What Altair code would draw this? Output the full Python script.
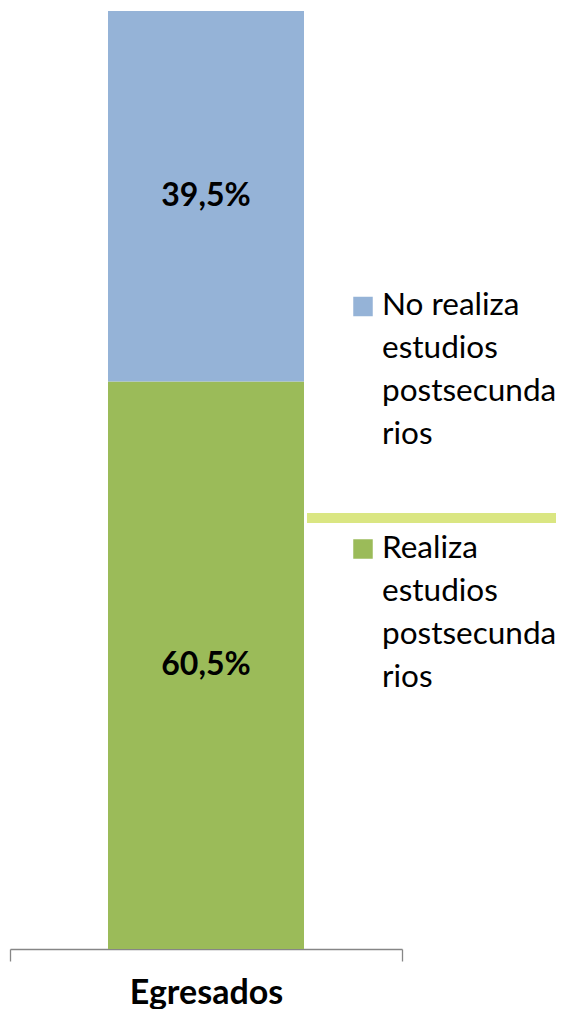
import altair as alt
import pandas as pd

# ---- data ----
group = ["Egresados", "Egresados"]
categories = ["Realiza estudios postsecundarios", "No realiza estudios postsecundarios"]
values = [60.5, 39.5]
value_labels = ["60,5%", "39,5%"]
stack_order = [0, 1]
colors = ["#9BBB59", "#95B3D7"]
legend_labels = [
    "No realiza\nestudios\npostsecunda\nrios",
    "Realiza\nestudios\npostsecunda\nrios",
]
legend_colors = ["#95B3D7", "#9BBB59"]

FONT = "Lato"

df = pd.DataFrame({
    "group": group,
    "cat": categories,
    "value": values,
    "label": value_labels,
    "order": stack_order,
})

base = alt.Chart(df).transform_stack(
    stack="value", groupby=["group"], sort=[alt.SortField("order")], as_=["y0", "y1"]
).transform_calculate(mid="(datum.y0 + datum.y1) / 2")

x_enc = alt.X(
    "group:N",
    scale=alt.Scale(paddingInner=0, paddingOuter=0),
    axis=alt.Axis(
        title=None, labelAngle=0, tickBand="extent", tickSize=12,
        domainColor="#868686", tickColor="#868686", domainWidth=1.3, tickWidth=1.3,
        labelFont=FONT, labelFontSize=34, labelFontWeight="bold",
        labelColor="black", labelPadding=15, grid=False,
    ),
)

bars = base.mark_bar(size=196).encode(
    x=x_enc,
    y=alt.Y("y0:Q", scale=alt.Scale(domain=[0, 100]), axis=None),
    y2="y1:Q",
    color=alt.Color("cat:N", scale=alt.Scale(domain=categories, range=colors), legend=None),
)

texts = base.mark_text(font=FONT, fontSize=32, fontWeight="bold", color="black").encode(
    x=x_enc,
    y="mid:Q",
    text="label:N",
)

layers = [bars, texts]

# manual legend (wrapped labels like the reference)
leg_sq_y = [295.5, 538]
leg_tx_y = [304, 547]
for i in range(2):
    d = pd.DataFrame({"t": [legend_labels[i]]})
    layers.append(
        alt.Chart(d).mark_square(size=380, color=legend_colors[i], opacity=1).encode(
            x=alt.value(353), y=alt.value(leg_sq_y[i])
        )
    )
    layers.append(
        alt.Chart(d).mark_text(
            font=FONT, fontSize=31.5, color="black", align="left",
            baseline="alphabetic", lineBreak="\n", lineHeight=43,
        ).encode(x=alt.value(372), y=alt.value(leg_tx_y[i]), text="t:N")
    )

# light green line between legend entries
line = alt.Chart(pd.DataFrame({"a": [0]})).mark_rule(color="#DAE682", strokeWidth=10).encode(
    x=alt.value(297), x2=alt.value(546), y=alt.value(507)
)
layers.append(line)

chart = alt.layer(*layers).properties(
    width=392, height=938,
    padding={"left": 2, "top": 3, "right": 154, "bottom": 60},
    autosize=alt.AutoSizeParams(type="none"),
).configure_view(stroke=None)

chart.save("out.html", embed_options={"renderer": "svg", "actions": False})
